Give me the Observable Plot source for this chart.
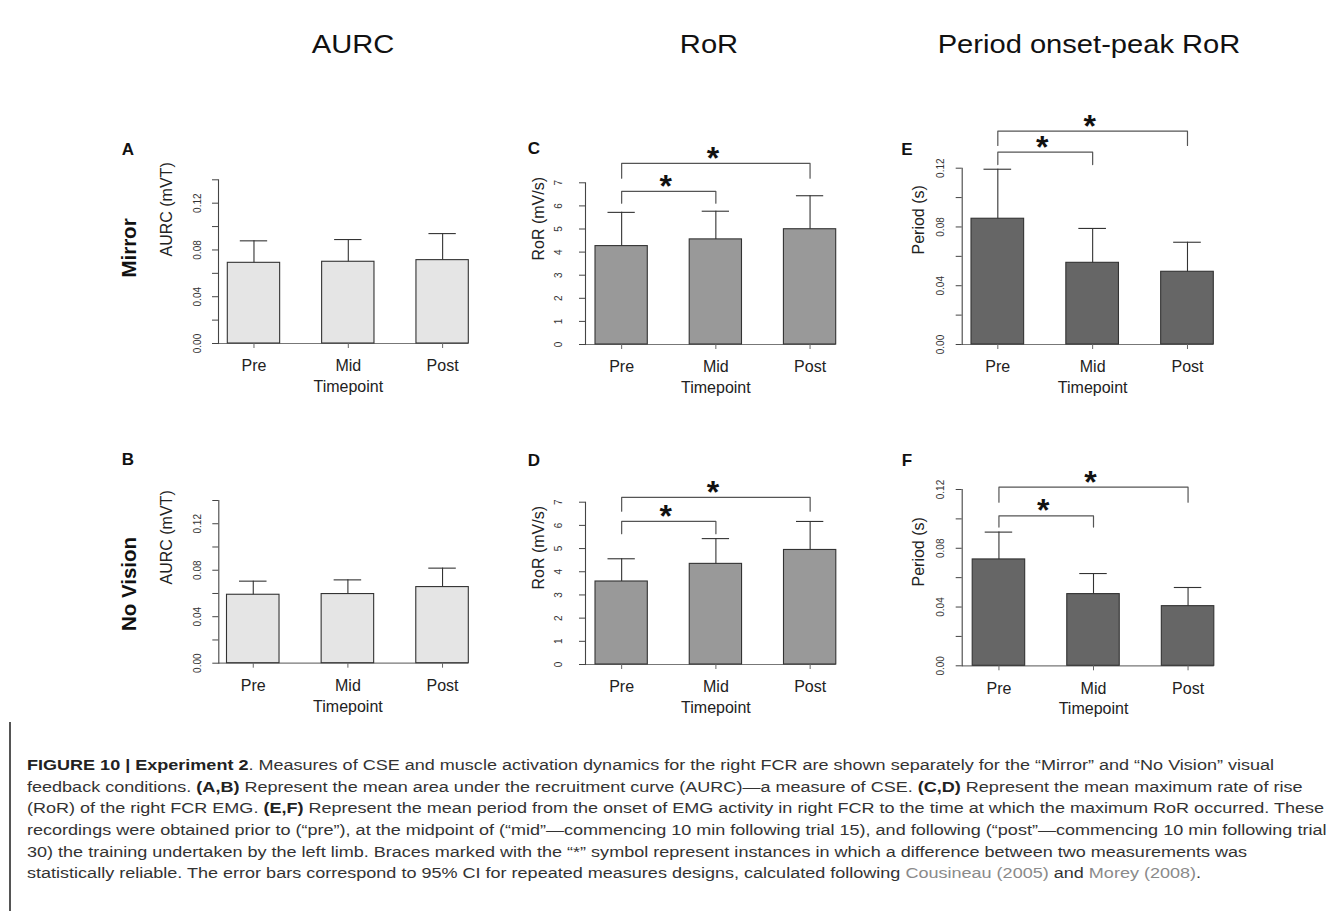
<!DOCTYPE html>
<html>
<head>
<meta charset="utf-8">
<script src="https://cdn.jsdelivr.net/npm/d3@7"></script>
<script src="https://cdn.jsdelivr.net/npm/@observablehq/plot@0.6"></script>
<style>
  html, body { margin: 0; padding: 0; background: #fff; }
  #fig { position: relative; width: 1342px; height: 911px; overflow: hidden; background: #fff;
         font-family: "Liberation Sans", Arial, sans-serif; color: #111; }
  .abs { position: absolute; white-space: nowrap; line-height: 1; }
  .hdr { font-size: 26px; transform: translate(-50%, -50%) scaleX(1.12); }
  .rowlab { font-size: 20.5px; font-weight: bold; transform: translate(-50%, -50%) rotate(-90deg); }
  .letter { font-size: 17px; font-weight: bold; transform: translate(-50%, -50%); }
  .panel { position: absolute; }
  #capbar { position: absolute; left: 9px; top: 722px; width: 1.5px; height: 189px; background: #555; }
  #cap { position: absolute; left: 27px; top: 754px; font-size: 15.5px; line-height: 21.67px; color: #333;
         transform-origin: 0 0; transform: scaleX(1.163); }
  #cap div { white-space: nowrap; }
  #cap b { color: #222; }
  #cap .ref { color: #8a8a8a; }
</style>
</head>
<body>
<div id="fig"></div>
<script>
// ---------------- data ----------------
const timepoints = ["Pre", "Mid", "Post"];

const aurcMirror      = [0.0690, 0.0699, 0.0713];
const aurcMirrorCI    = [0.0878, 0.0889, 0.0940];
const aurcNoVision    = [0.0589, 0.0595, 0.0655];
const aurcNoVisionCI  = [0.0706, 0.0717, 0.0818];

const rorMirror       = [4.26, 4.55, 4.99];
const rorMirrorCI     = [5.72, 5.77, 6.44];
const rorNoVision     = [3.58, 4.34, 4.94];
const rorNoVisionCI   = [4.56, 5.43, 6.17];

const periodMirror      = [0.0856, 0.0556, 0.0495];
const periodMirrorCI    = [0.1193, 0.0790, 0.0696];
const periodNoVision    = [0.0724, 0.0488, 0.0406];
const periodNoVisionCI  = [0.0910, 0.0628, 0.0533];

// significance braces: [from, to, bar level, leg end]
const bracesC = [["Pre", "Mid", 6.63, 6.12], ["Pre", "Post", 7.84, 7.20]];
const bracesD = [["Pre", "Mid", 6.17, 5.64], ["Pre", "Post", 7.21, 6.61]];
const bracesE = [["Pre", "Mid", 0.1309, 0.1225], ["Pre", "Post", 0.1452, 0.1355]];
const bracesF = [["Pre", "Mid", 0.1021, 0.0944], ["Pre", "Post", 0.1216, 0.1114]];

const aurcTicks   = [0, 0.02, 0.04, 0.06, 0.08, 0.10, 0.12, 0.14];
const aurcLabels  = [0, 0.04, 0.08, 0.12];
const rorTicks    = [0, 1, 2, 3, 4, 5, 6, 7];
const rorLabels   = [0, 1, 2, 3, 4, 5, 6, 7];
const periodTicks = [0, 0.02, 0.04, 0.06, 0.08, 0.10, 0.12];
const periodLabels = [0, 0.04, 0.08, 0.12];

const headers = ["AURC", "RoR", "Period onset-peak RoR"];
const rowLabels = ["Mirror", "No Vision"];
const panelLetters = ["A", "B", "C", "D", "E", "F"];
const xTitle = "Timepoint";
const yTitles = ["AURC (mVT)", "RoR (mV/s)", "Period (s)"];

// ---------------- layout ----------------
const fig = document.getElementById("fig");
const FONT = "Liberation Sans, Arial, Helvetica, sans-serif";

function addText(cls, txt, x, y) {
  const d = document.createElement("div");
  d.className = "abs " + cls;
  d.textContent = txt;
  d.style.left = x + "px";
  d.style.top = y + "px";
  fig.appendChild(d);
}

addText("hdr", headers[0], 353, 44);
addText("hdr", headers[1], 709, 44);
addText("hdr", headers[2], 1089, 44);
addText("rowlab", rowLabels[0], 129, 248);
addText("rowlab", rowLabels[1], 129, 584);
const letterPos = [[128, 149], [128, 459], [534, 148], [534, 460], [907, 149], [907, 460]];
panelLetters.forEach((l, i) => addText("letter", l, letterPos[i][0], letterPos[i][1]));

const fmt2 = d3.format(".2f");
const fmt0 = d3.format("d");

function panel(cfg) {
  const {L, T, W, H, axisX, barLeft, barRight, y0, yTop, domain, vals, cis, fill,
         ticks, labels, fmt, title, titleX, titleY, tickGap, braces} = cfg;
  const pi = 0.445;
  const len = barRight - axisX;
  const off = barLeft - axisX;
  const step = (len - off) / (3 - pi);
  const po = off / (2 * step);
  const marginLeft = axisX - L;
  const marginRight = L + W - barRight;
  const marginTop = yTop - T;
  const marginBottom = T + H - y0;
  const frameMidY = (yTop + y0) / 2;

  const data = timepoints.map((t, i) => ({t, v: vals[i], hi: cis[i]}));

  const marks = [
    Plot.ruleY([0], {stroke: "#777", strokeWidth: 1.2}),
    Plot.barY(data, {x: "t", y: "v", fill, stroke: "#333", strokeWidth: 1.1}),
    Plot.ruleX(data, {x: "t", y1: "v", y2: "hi", stroke: "#333", strokeWidth: 1.1}),
    Plot.tickY(data, {x: "t", y: "hi", stroke: "#333", strokeWidth: 1.1, insetLeft: 12.5, insetRight: 12.5}),
    Plot.frame({anchor: "left", stroke: "#444", strokeWidth: 1.1}),
    Plot.axisY({ticks, tickSize: 6, stroke: "#444", fill: "none", label: null}),
    Plot.axisY({ticks: labels, tickFormat: fmt, tickRotate: -90, tickSize: 0, tickPadding: tickGap,
                fontSize: 10, fill: "#333", label: null}),
    Plot.axisX({tickSize: 5, tickPadding: 11.4, fontSize: 16, fill: "#222", stroke: "#666", label: null}),
    Plot.text([xTitle], {x: () => "Mid", y: null, text: d => d, frameAnchor: "bottom", dy: 48.5,
                         fontSize: 16, fill: "#222"}),
    Plot.text([title], {x: null, y: null, text: d => d, frameAnchor: "left", rotate: -90,
                        dx: titleX - axisX, dy: titleY - frameMidY, fontSize: 16, fill: "#222"})
  ];

  if (braces) {
    const pts = braces.flatMap((b, k) => [
      {id: k, x: b[0], y: b[3]}, {id: k, x: b[0], y: b[2]},
      {id: k, x: b[1], y: b[2]}, {id: k, x: b[1], y: b[3]}
    ]);
    marks.push(Plot.line(pts, {x: "x", y: "y", z: "id", stroke: "#555", strokeWidth: 1.2}));
    braces.forEach(b => {
      const shift = (timepoints.indexOf(b[1]) - timepoints.indexOf(b[0])) / 2 * step - 3;
      marks.push(Plot.text([b], {x: d => d[0], y: d => d[2], text: () => "*", dx: shift, dy: 5.5,
                                 lineAnchor: "bottom", fontSize: 32, fontWeight: "bold", fill: "#111"}));
    });
  }

  const svg = Plot.plot({
    width: W, height: H, marginLeft, marginRight, marginTop, marginBottom,
    x: {type: "band", domain: timepoints, paddingInner: pi, paddingOuter: po, align: 1, round: false, axis: null},
    y: {domain, axis: null},
    style: {fontFamily: FONT, fontSize: "10px", background: "none", overflow: "visible", color: "#222"},
    marks
  });
  svg.classList.add("panel");
  svg.style.left = L + "px";
  svg.style.top = T + "px";
  svg.style.maxWidth = "none";
  fig.appendChild(svg);
}

// Row 1 (Mirror)
panel({L: 140, T: 100, W: 340, H: 320, axisX: 218, barLeft: 227.3, barRight: 468.3, y0: 343, yTop: 179.3,
       domain: [0, 0.14], vals: aurcMirror, cis: aurcMirrorCI, fill: "#e5e5e5",
       ticks: aurcTicks, labels: aurcLabels, fmt: fmt2, title: yTitles[0], titleX: 166.7, titleY: 256, tickGap: 18});
panel({L: 490, T: 100, W: 370, H: 320, axisX: 585, barLeft: 595, barRight: 835.7, y0: 344, yTop: 182.3,
       domain: [0, 7], vals: rorMirror, cis: rorMirrorCI, fill: "#999999",
       ticks: rorTicks, labels: rorLabels, fmt: fmt0, title: yTitles[1], titleX: 538.3, titleY: 260, tickGap: 24,
       braces: bracesC});
panel({L: 870, T: 100, W: 370, H: 320, axisX: 961.7, barLeft: 971, barRight: 1213.3, y0: 344, yTop: 167.7,
       domain: [0, 0.12], vals: periodMirror, cis: periodMirrorCI, fill: "#666666",
       ticks: periodTicks, labels: periodLabels, fmt: fmt2, title: yTitles[2], titleX: 918.3, titleY: 254, tickGap: 18,
       braces: bracesE});
// Row 2 (No Vision)
panel({L: 140, T: 420, W: 340, H: 320, axisX: 218.3, barLeft: 226.5, barRight: 468.3, y0: 662.7, yTop: 500,
       domain: [0, 0.14], vals: aurcNoVision, cis: aurcNoVisionCI, fill: "#e5e5e5",
       ticks: aurcTicks, labels: aurcLabels, fmt: fmt2, title: yTitles[0], titleX: 166.7, titleY: 584, tickGap: 18});
panel({L: 490, T: 420, W: 370, H: 320, axisX: 585, barLeft: 595, barRight: 835.8, y0: 664, yTop: 501.7,
       domain: [0, 7], vals: rorNoVision, cis: rorNoVisionCI, fill: "#999999",
       ticks: rorTicks, labels: rorLabels, fmt: fmt0, title: yTitles[1], titleX: 538.3, titleY: 589, tickGap: 24,
       braces: bracesD});
panel({L: 870, T: 420, W: 370, H: 320, axisX: 961.7, barLeft: 972.2, barRight: 1213.8, y0: 665.3, yTop: 489,
       domain: [0, 0.12], vals: periodNoVision, cis: periodNoVisionCI, fill: "#666666",
       ticks: periodTicks, labels: periodLabels, fmt: fmt2, title: yTitles[2], titleX: 918.3, titleY: 586, tickGap: 18,
       braces: bracesF});

// ---------------- caption ----------------
const bar = document.createElement("div");
bar.id = "capbar";
fig.appendChild(bar);
const cap = document.createElement("div");
cap.id = "cap";
cap.innerHTML = [
  "<b>FIGURE 10 | Experiment 2</b>. Measures of CSE and muscle activation dynamics for the right FCR are shown separately for the “Mirror” and “No Vision” visual",
  "feedback conditions. <b>(A,B)</b> Represent the mean area under the recruitment curve (AURC)—a measure of CSE. <b>(C,D)</b> Represent the mean maximum rate of rise",
  "(RoR) of the right FCR EMG. <b>(E,F)</b> Represent the mean period from the onset of EMG activity in right FCR to the time at which the maximum RoR occurred. These",
  "recordings were obtained prior to (“pre”), at the midpoint of (“mid”—commencing 10 min following trial 15), and following (“post”—commencing 10 min following trial",
  "30) the training undertaken by the left limb. Braces marked with the “*” symbol represent instances in which a difference between two measurements was",
  "statistically reliable. The error bars correspond to 95% CI for repeated measures designs, calculated following <span class=\"ref\">Cousineau (2005)</span> and <span class=\"ref\">Morey (2008)</span>."
].map(s => "<div>" + s + "</div>").join("");
fig.appendChild(cap);
</script>
</body>
</html>
